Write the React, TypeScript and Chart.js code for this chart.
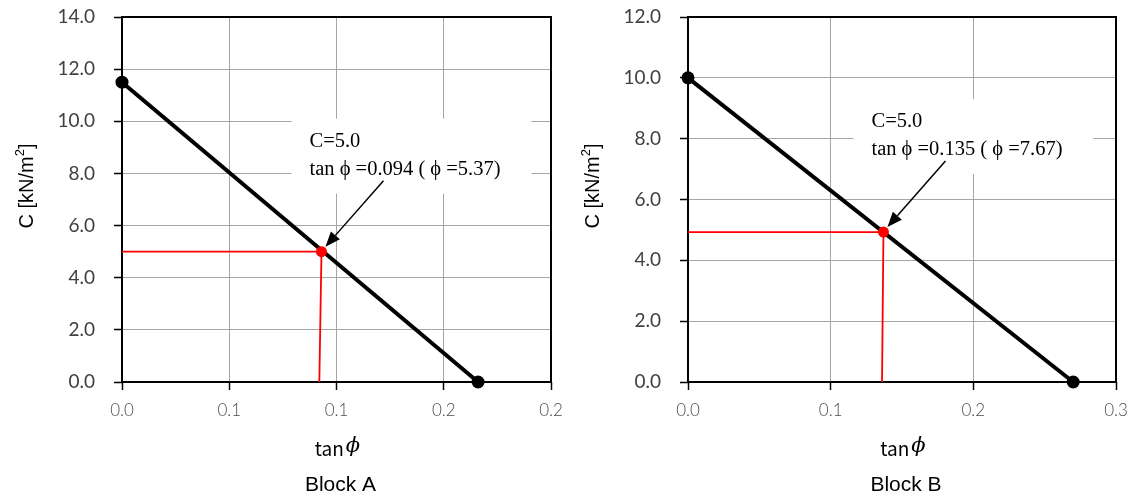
import React, { useEffect, useRef } from "react";
import { Chart, registerables } from "chart.js";
Chart.register(...registerables);

// ---------- Block A ----------
const aTicksTan = [0, 0.05, 0.1, 0.15, 0.2];
const aTickLabelsTan = ["0.0", "0.1", "0.1", "0.2", "0.2"];
const aTicksC = [0, 2, 4, 6, 8, 10, 12, 14];
const aLineTan = [0, 0.166];
const aLineC = [11.5, 0];
const aGuideTan = [0, 0.093, 0.092];
const aGuideC = [5.0, 5.0, 0];
const aNote = ["C=5.0", "tan \u03D5 =0.094 ( \u03D5 =5.37)"];
const aCaption = "Block A";

// ---------- Block B ----------
const bTicksTan = [0, 0.1, 0.2, 0.3];
const bTickLabelsTan = ["0.0", "0.1", "0.2", "0.3"];
const bTicksC = [0, 2, 4, 6, 8, 10, 12];
const bLineTan = [0, 0.27];
const bLineC = [10.0, 0];
const bGuideTan = [0, 0.137, 0.136];
const bGuideC = [4.93, 4.93, 0];
const bNote = ["C=5.0", "tan \u03D5 =0.135 ( \u03D5 =7.67)"];
const bCaption = "Block B";

const yTitleMain = "C [kN/m";
const yTitleSup = "2";
const yTitleEnd = "]";
const xTitleFn = "tan";
const xTitleSym = "\u03D5";

const W = 566;
const H = 499;

const deco = {
  id: "deco",
  beforeDatasetsDraw(chart: any, _a: any, o: any) {
    const { ctx, chartArea: ca } = chart;
    const px = chart.scales.x.getPixelForValue(o.ax);
    const py = chart.scales.y.getPixelForValue(o.ay);
    ctx.save();
    ctx.fillStyle = "#ffffff";
    ctx.fillRect(px - 30, py - 133, 240, 75);
    ctx.strokeStyle = "#000000";
    ctx.lineWidth = 2;
    ctx.strokeRect(ca.left, ca.top, ca.right - ca.left, ca.bottom - ca.top);
    ctx.restore();
  },
  afterDraw(chart: any, _a: any, o: any) {
    const { ctx, chartArea: ca } = chart;
    const px = chart.scales.x.getPixelForValue(o.ax);
    const py = chart.scales.y.getPixelForValue(o.ay);
    ctx.save();
    // annotation text
    ctx.fillStyle = "#000";
    ctx.font = '20.5px "Liberation Serif"';
    ctx.textAlign = "left";
    ctx.textBaseline = "middle";
    ctx.fillText(o.note[0], px - 12, py - 110);
    ctx.fillText(o.note[1], px - 12, py - 82);
    // arrow
    const sx = px + 62, sy = py - 71;
    const tx = px + 4, ty = py - 5;
    const ang = Math.atan2(ty - sy, tx - sx);
    const L = 15, hw = 6;
    const bx = tx - L * Math.cos(ang), by = ty - L * Math.sin(ang);
    ctx.strokeStyle = "#000";
    ctx.lineWidth = 1.5;
    ctx.beginPath();
    ctx.moveTo(sx, sy);
    ctx.lineTo(bx, by);
    ctx.stroke();
    ctx.beginPath();
    ctx.moveTo(tx, ty);
    ctx.lineTo(bx + hw * Math.sin(ang), by - hw * Math.cos(ang));
    ctx.lineTo(bx - hw * Math.sin(ang), by + hw * Math.cos(ang));
    ctx.closePath();
    ctx.fill();
    // y title with superscript
    ctx.save();
    ctx.translate(ca.left - 95, 186);
    ctx.rotate(-Math.PI / 2);
    ctx.textAlign = "left";
    ctx.textBaseline = "middle";
    const fMain = '20px "Liberation Sans"';
    const fSup = '13px "Liberation Sans"';
    ctx.font = fMain;
    const w1 = ctx.measureText(yTitleMain).width;
    const w3 = ctx.measureText(yTitleEnd).width;
    ctx.font = fSup;
    const w2 = ctx.measureText(yTitleSup).width;
    const total = w1 + w2 + w3;
    const x0 = -total / 2;
    ctx.font = fMain;
    ctx.fillText(yTitleMain, x0, 0);
    ctx.font = fSup;
    ctx.fillText(yTitleSup, x0 + w1, -7);
    ctx.font = fMain;
    ctx.fillText(yTitleEnd, x0 + w1 + w2, 0);
    ctx.restore();
    // x title
    const cx = (ca.left + ca.right) / 2;
    ctx.textAlign = "left";
    ctx.textBaseline = "middle";
    const fFn = '19px "Noto Sans CJK JP"';
    const fSym = 'italic 21px "DejaVu Serif"';
    ctx.font = fFn;
    const wf = ctx.measureText(xTitleFn).width;
    ctx.font = fSym;
    const ws = ctx.measureText(xTitleSym).width;
    const gap = 2;
    const xs0 = cx + 1 - (wf + gap + ws) / 2;
    ctx.font = fFn;
    ctx.fillText(xTitleFn, xs0, 449);
    ctx.font = fSym;
    ctx.fillText(xTitleSym, xs0 + wf + gap, 447);
    // caption
    ctx.textAlign = "center";
    ctx.font = '21px "Liberation Sans"';
    ctx.fillText(o.caption, cx + 4, 485);
    ctx.restore();
  },
};

function makeConfig(p: any) {
  return {
    type: "scatter",
    data: {
      datasets: [
        {
          data: p.guideTan.map((t: number, i: number) => ({ x: t, y: p.guideC[i] })),
          showLine: true,
          borderColor: "#ff0000",
          borderWidth: 1.8,
          pointRadius: [0, 5.5, 0],
          pointBackgroundColor: "#ff0000",
          pointBorderWidth: 0,
          clip: false,
        },
        {
          data: p.lineTan.map((t: number, i: number) => ({ x: t, y: p.lineC[i] })),
          showLine: true,
          borderColor: "#000000",
          borderWidth: 4,
          pointRadius: 6.5,
          pointBackgroundColor: "#000000",
          pointBorderWidth: 0,
          clip: false,
        },
      ],
    },
    options: {
      responsive: false,
      animation: false,
      events: [],
      layout: { padding: { top: 17, right: p.padRight, bottom: 0, left: 0 } },
      plugins: {
        legend: { display: false },
        tooltip: { enabled: false },
        deco: { ax: p.guideTan[1], ay: p.guideC[1], note: p.note, caption: p.caption },
      },
      scales: {
        x: {
          type: "linear",
          min: p.ticksTan[0],
          max: p.ticksTan[p.ticksTan.length - 1],
          afterBuildTicks: (s: any) => {
            s.ticks = p.ticksTan.map((v: number) => ({ value: v }));
          },
          afterFit: (s: any) => {
            s.height = H - 382;
            s.paddingLeft = 0;
            s.paddingRight = 0;
          },
          grid: { color: "#a6a6a6", lineWidth: 1, tickColor: "#000", tickLength: 8, tickWidth: 1.5 },
          border: { display: false },
          ticks: {
            padding: 10,
            maxRotation: 0,
            autoSkip: false,
            color: "#4d4d4d",
            font: { family: "Lato", size: 17, weight: "300" },
            callback: (_v: any, i: number) => p.tickLabelsTan[i],
          },
        },
        y: {
          type: "linear",
          min: p.ticksC[0],
          max: p.ticksC[p.ticksC.length - 1],
          afterBuildTicks: (s: any) => {
            s.ticks = p.ticksC.map((v: number) => ({ value: v }));
          },
          afterFit: (s: any) => {
            s.width = 122;
            s.paddingTop = 0;
            s.paddingBottom = 0;
          },
          grid: { color: "#a6a6a6", lineWidth: 1, tickColor: "#000", tickLength: 8, tickWidth: 1.5 },
          border: { display: false },
          ticks: {
            padding: 19,
            autoSkip: false,
            color: "#404040",
            font: { family: "Lato", size: 19 },
            callback: (v: any) => Number(v).toFixed(1),
          },
        },
      },
    },
    plugins: [deco],
  };
}

function Panel(props: any) {
  const ref = useRef<HTMLCanvasElement>(null);
  useEffect(() => {
    const chart = new Chart(ref.current as HTMLCanvasElement, makeConfig(props.p) as any);
    return () => chart.destroy();
  }, []);
  return (
    <div style={{ position: "absolute", left: props.left, top: 0, width: W, height: H }}>
      <canvas ref={ref} width={W} height={H} style={{ width: W, height: H, display: "block" }} />
    </div>
  );
}

export default function App() {
  const pA = {
    ticksTan: aTicksTan, tickLabelsTan: aTickLabelsTan, ticksC: aTicksC,
    lineTan: aLineTan, lineC: aLineC, guideTan: aGuideTan, guideC: aGuideC,
    note: aNote, caption: aCaption, padRight: 15,
  };
  const pB = {
    ticksTan: bTicksTan, tickLabelsTan: bTickLabelsTan, ticksC: bTicksC,
    lineTan: bLineTan, lineC: bLineC, guideTan: bGuideTan, guideC: bGuideC,
    note: bNote, caption: bCaption, padRight: 16,
  };
  return (
    <div style={{ position: "absolute", left: 0, top: 0, width: 1132, height: 499, background: "#fff" }}>
      <Panel p={pA} left={0} />
      <Panel p={pB} left={566} />
    </div>
  );
}
